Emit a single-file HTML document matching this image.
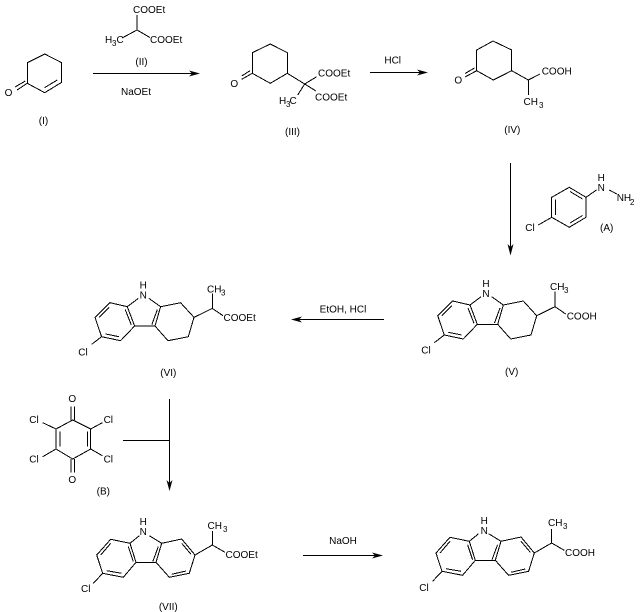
<!DOCTYPE html>
<html><head><meta charset="utf-8"><style>
html,body{margin:0;padding:0;background:#fff}
svg{display:block}
text{font-family:"Liberation Sans",Arial,sans-serif;font-size:10px;fill:#000}
.m{text-anchor:middle}
.s{font-size:8px}
path{fill:none;stroke:#000;stroke-width:1;shape-rendering:crispEdges}
polygon{fill:#000;stroke:none}
</style></head><body>
<svg width="640" height="612" viewBox="0 0 640 612" xmlns="http://www.w3.org/2000/svg">
<!-- I -->
<path d="M44.7 54L61.7 62.7V82.3L44.7 92.7L27.3 83.3V62.7ZM44.5 87.7L57.3 80M27.3 83.3L17 90M25.3 81L15 87"/>
<text class="m" x="8.5" y="96">O</text>
<text class="m" x="43.5" y="124">(I)</text>
<!-- II -->
<path d="M137 15V30L122 38M137 30L150 37.5"/>
<text x="133" y="13">COOEt</text>
<text x="150" y="43">COOEt</text>
<text x="105" y="43">H</text><text class="s" x="112" y="46">3</text><text x="116.500" y="43">C</text>
<text class="m" x="141.500" y="65">(II)</text>
<!-- arrow 1 -->
<path d="M93 73.500H195"/>
<polygon points="200,73.500 189,70.500 192,73.500 189,76.500"/>
<text class="m" x="136" y="95">NaOEt</text>
<!-- III -->
<path d="M270.300 44L287.300 52.700V73.300L270.300 83.300L252.300 73.300V52.700ZM252.300 73.300L241.700 79.300M250 70.700L241.700 76M287.300 73.300L304.700 84L316.700 76.700M304.700 84L316 91M304.700 84L297.700 95"/>
<text class="m" x="234.300" y="87">O</text>
<text x="318" y="76.500">COOEt</text>
<text x="315" y="100.500">COOEt</text>
<text x="279" y="104">H</text><text class="s" x="286" y="107">3</text><text x="289.500" y="104">C</text>
<text class="m" x="292.500" y="135">(III)</text>
<!-- HCl arrow -->
<path d="M370 72.500H424"/>
<polygon points="428,72.500 417,69.500 420,72.500 417,75.500"/>
<text class="m" x="392.700" y="63.500">HCl</text>
<!-- IV -->
<path d="M493 41L511.700 50V70.700L493.300 80L476.700 70.700V50ZM476.700 70.700L465 77M474.500 68L465 73.500M511.700 70.700L528.300 80L540 74M528.300 80V95"/>
<text class="m" x="458.300" y="83.500">O</text>
<text x="541.700" y="74.500">COOH</text>
<text x="523.500" y="105">CH</text><text class="s" x="539" y="108">3</text>
<text class="m" x="512.300" y="133">(IV)</text>
<!-- down arrow -->
<path d="M510.500 163V251"/>
<polygon points="510.500,255.500 507.500,244 510.500,247 513.500,244"/>
<!-- A -->
<path d="M569.300 187.300L586 197.300V217.300L569.300 227.300L551.700 217.300V197.300ZM570 191.500L582.500 199M555.500 199.500V215M570 223L582.500 215.500M586 197.300L596.500 190M609.300 190L616.700 194M551.700 217.300L538.300 225"/>
<text class="m" x="601.300" y="181">H</text>
<text class="m" x="601.300" y="191">N</text>
<text x="616.700" y="201">NH</text><text class="s" x="630" y="205">2</text>
<text class="m" x="530" y="231">Cl</text>
<text class="m" x="606.700" y="231">(A)</text>
<!-- V -->
<path d="M452.700 301L470 305L477.300 324.300L463.300 339L444.300 335L437.700 315.700ZM441.700 315.700L451.700 305.700M468 308L474 323.300M448.300 332.300L461.700 335M470 305L481 296.700M491.700 296.700L503.300 305L497.700 324.300H477.300M500 308L494.500 323M503.300 305L523.300 301L536.700 315.700L531 335L510.700 339L497.700 324.300M536.700 315.700L555 306.700V291.700M555 306.700L565.700 314M444.300 335L434.300 342.700"/>
<text class="m" x="486" y="287">H</text>
<text class="m" x="486" y="297">N</text>
<text x="550" y="290">CH</text><text class="s" x="564" y="293">3</text>
<text x="566.700" y="319.500">COOH</text>
<text class="m" x="426" y="353.500">Cl</text>
<text class="m" x="511.700" y="375">(V)</text>
<!-- EtOH arrow -->
<path d="M384 319.500H296"/>
<polygon points="291,319.500 302,316.500 299,319.500 302,322.500"/>
<text class="m" x="343" y="312.500">EtOH, HCl</text>
<!-- VI -->
<g transform="translate(-342.700 1.700)">
<path d="M452.700 301L470 305L477.300 324.300L463.300 339L444.300 335L437.700 315.700ZM441.700 315.700L451.700 305.700M468 308L474 323.300M448.300 332.300L461.700 335M470 305L481 296.700M491.700 296.700L503.300 305L497.700 324.300H477.300M500 308L494.500 323M503.300 305L523.300 301L536.700 315.700L531 335L510.700 339L497.700 324.300M536.700 315.700L555 306.700V291.700M555 306.700L565.700 314M444.300 335L434.300 342.700"/>
</g>
<text class="m" x="143.300" y="288.500">H</text>
<text class="m" x="143.300" y="298.500">N</text>
<text x="207" y="292.500">CH</text><text class="s" x="221" y="295.500">3</text>
<text x="223.500" y="321">COOEt</text>
<text class="m" x="83" y="355.500">Cl</text>
<text class="m" x="168.300" y="376">(VI)</text>
<!-- B -->
<path d="M72.700 420L90.700 429V449L72.700 459L56 449V429ZM60 431.700V446.700M87.300 431.700V446.700M71 406.700V420M74.300 406.700V420M71 459V472.700M74.300 459V472.700M56 429L42.700 422.700M90.700 429L102.300 422.700M56 449L42.700 456.700M90.700 449L102.300 455.700"/>
<text class="m" x="72.300" y="402">O</text>
<text class="m" x="72.300" y="483">O</text>
<text class="m" x="34" y="423">Cl</text>
<text class="m" x="108.300" y="423">Cl</text>
<text class="m" x="34" y="462.500">Cl</text>
<text class="m" x="108.300" y="462.500">Cl</text>
<text class="m" x="103.300" y="494.500">(B)</text>
<!-- B arrow -->
<path d="M169.500 399V486M123 440.500H169.500"/>
<polygon points="169.500,491 166.500,480 169.500,483 172.500,480"/>
<!-- VII -->
<path d="M110.700 539.300L130 543.300L136 562.300L123.300 577.300L102.700 573.300L96.700 555ZM100.700 555L110.700 543.300M128.300 546.700L133.300 561.700M106.700 570.700L121.700 573.300M130 543.300L139.300 535.700M149.300 535.700L161.700 543.300L156 562.300H136M158.300 546.700L152.700 561.700M161.700 543.300L181.700 539L195 555L189.300 573.300L169.300 577.300L156 562.300M181.700 543.300L191 554.300M171.700 574.300L186 571M195 555L212.300 545V531M212.300 545L225 552.300M102.700 573.300L93.300 583.300"/>
<text class="m" x="143.300" y="525">H</text>
<text class="m" x="143.300" y="535">N</text>
<text x="207.500" y="529">CH</text><text class="s" x="223" y="532">3</text>
<text x="225.500" y="558">COOEt</text>
<text class="m" x="85.700" y="592">Cl</text>
<text class="m" x="168.300" y="610">(VII)</text>
<!-- NaOH arrow -->
<path d="M303 555.500H378"/>
<polygon points="383,555.500 372,552.500 375,555.500 372,558.500"/>
<text class="m" x="343" y="544">NaOH</text>
<!-- VIII -->
<g transform="translate(339.300 -2)">
<path d="M110.700 539.300L130 543.300L136 562.300L123.300 577.300L102.700 573.300L96.700 555ZM100.700 555L110.700 543.300M128.300 546.700L133.300 561.700M106.700 570.700L121.700 573.300M130 543.300L139.300 535.700M149.300 535.700L161.700 543.300L156 562.300H136M158.300 546.700L152.700 561.700M161.700 543.300L181.700 539L195 555L189.300 573.300L169.300 577.300L156 562.300M181.700 543.300L191 554.300M171.700 574.300L186 571M195 555L212.300 545V531M212.300 545L225 552.300M102.700 573.300L93.300 583.300"/>
</g>
<text class="m" x="484.300" y="524">H</text>
<text class="m" x="484.300" y="534">N</text>
<text x="548" y="526">CH</text><text class="s" x="563" y="529">3</text>
<text x="565" y="556">COOH</text>
<text class="m" x="424" y="591">Cl</text>
</svg>
</body></html>
